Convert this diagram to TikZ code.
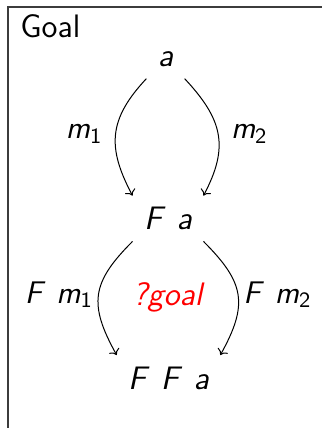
\documentclass[tikz,border=0pt]{standalone}
\usepackage{xcolor}
\usepackage{tikz}
\usetikzlibrary{arrows.meta}
\definecolor{holered}{RGB}{255,0,0}
\definecolor{boxline}{RGB}{60,60,60}
\newcommand{\msub}[1]{\textsubscript{\upshape #1}}
\newcommand{\appgap}{\hspace{0.45em}}

\begin{document}
\begin{tikzpicture}[x=0.4pt, y=0.4pt,
    font=\sffamily\fontsize{13}{15}\selectfont,
    obj/.style={inner sep=4.4pt, font=\sffamily\itshape\fontsize{13}{15}\selectfont},
    lbl/.style={inner sep=5pt, font=\sffamily\itshape\fontsize{12.5}{15}\selectfont},
    arr/.style={-{To[length=2.2pt,width=4.6pt]}, line width=0.4pt, looseness=1.2}]
  \useasboundingbox (0,0) rectangle (322,-428);
  \draw[boxline, line width=0.6pt] (8,-428) |- (322,-7);
  \node[anchor=base west, inner sep=0pt] (title) at (20,-37) {Goal};
  % objects
  \node[obj] (a) at (165.5,-59.5) {a};
  \node[obj] (fa) at (168,-218.5) {F\appgap a};
  \node[obj] (ffa) at (168.5,-378) {F\appgap F\appgap a};
  \node[obj, text=holered] (hole) at (167.5,-297) {?goal};
  % arrows
  \draw[arr] (a.south west) to[out=-133, in=118] node[lbl, left] {m\msub{1}} (fa.north west);
  \draw[arr] (a.south east) to[out=-47, in=62] node[lbl, right] {m\msub{2}} (fa.north east);
  \draw[arr, looseness=1.3] (fa.south west) to[out=-135, in=119] node[lbl, left, inner sep=2pt] {F\appgap m\msub{1}} (ffa.north west);
  \draw[arr, looseness=1.3] (fa.south east) to[out=-45, in=61] node[lbl, right, inner sep=2pt] {F\appgap m\msub{2}} (ffa.north east);
\end{tikzpicture}
\end{document}
